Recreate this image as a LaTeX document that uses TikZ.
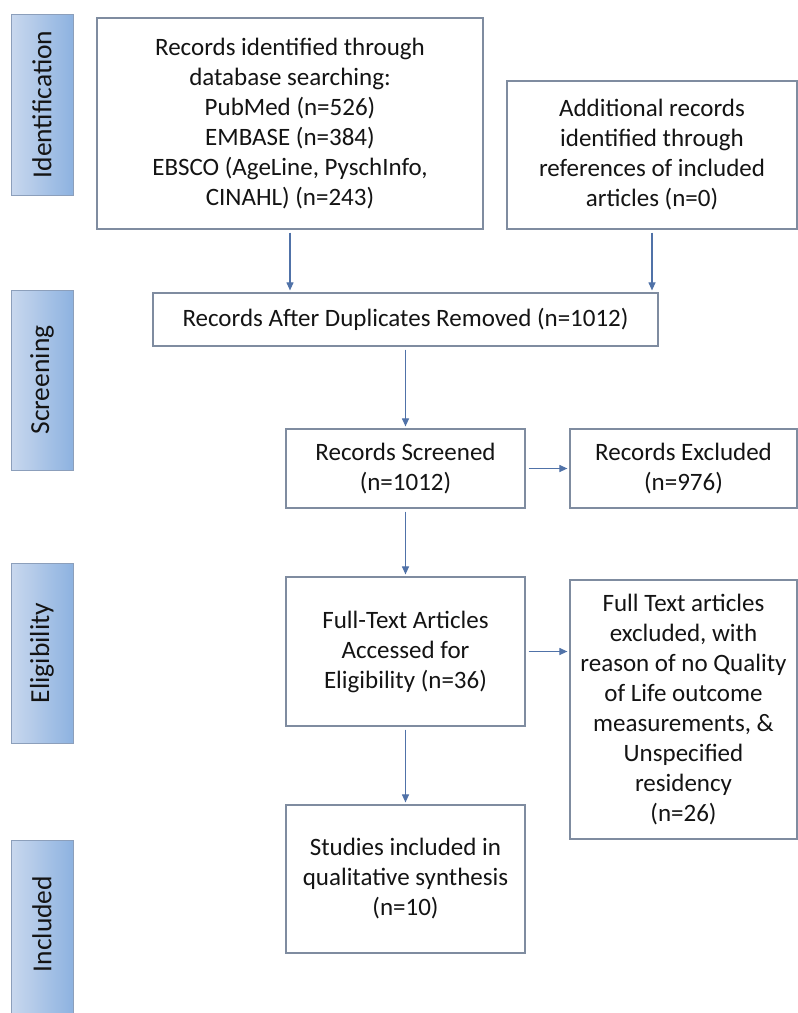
\documentclass[tikz,border=0pt]{standalone}
\usepackage{fontspec}
\setmainfont{Carlito}
\usetikzlibrary{arrows.meta,calc}
\definecolor{boxline}{HTML}{7F8CA0}
\definecolor{arrowc}{HTML}{5072A8}
\definecolor{barL}{HTML}{C9D8EE}
\definecolor{barR}{HTML}{8DB2E0}
\definecolor{barline}{HTML}{8C9FBB}
\definecolor{txt}{HTML}{141414}
\begin{document}
\begin{tikzpicture}[x=1pt,y=-1pt,
  every node/.style={font=\fontsize{25}{30}\selectfont, text=txt},
  flowbox/.style={draw=boxline, line width=1.2pt, rectangle, inner sep=0pt, align=center},
  phase/.style={draw=barline, line width=1pt, rectangle, inner sep=0pt, left color=barL, right color=barR, minimum width=62pt},
  phaselabel/.style={rotate=90, font=\fontsize{27.5}{30}\selectfont},
  conn/.style={draw=arrowc, line width=1.1pt, -{Triangle[length=8pt,width=7pt]}, shorten <=3pt, shorten >=2pt}
]
\useasboundingbox (0,0) rectangle (798,1013);
\fill[white] (0,0) rectangle (798,1013);

% phase bars
\node[phase, minimum height=181pt] (pid) at (42,104.5) {};
\node[phaselabel] (lid) at (pid.center) {Identification};
\node[phase, minimum height=180pt] (psc) at (42,380) {};
\node[phaselabel] (lsc) at (psc.center) {Screening};
\node[phase, minimum height=180pt] (pel) at (42,653) {};
\node[phaselabel] (lel) at (pel.center) {Eligibility};
\node[phase, minimum height=190pt] (pin) at (42,935) {};
\node[phaselabel] (lin) at (42,924) {Included};

% flow boxes
\node[flowbox, minimum width=386pt, minimum height=211pt] (b1) at (290,123.5)
  {Records identified through\\database searching:\\PubMed (n=526)\\EMBASE (n=384)\\EBSCO (AgeLine, PyschInfo,\\CINAHL) (n=243)};
\node[flowbox, minimum width=290pt, minimum height=148pt] (b2) at (652,155)
  {Additional records\\identified through\\references of included\\articles (n=0)};
\node[flowbox, minimum width=505pt, minimum height=53pt] (b3) at (405.5,319.5)
  {Records After Duplicates Removed (n=1012)};
\node[flowbox, minimum width=239pt, minimum height=79pt] (b4) at (405.5,468.5)
  {Records Screened\\(n=1012)};
\node[flowbox, minimum width=227pt, minimum height=79pt] (b5) at (683.5,468.5)
  {Records Excluded\\(n=976)};
\node[flowbox, minimum width=239pt, minimum height=149pt] (b6) at (405.5,651.5)
  {Full-Text Articles\\Accessed for\\Eligibility (n=36)};
\node[flowbox, minimum width=227pt, minimum height=259pt] (b7) at (683.5,709.5)
  {Full Text articles\\excluded, with\\reason of no Quality\\of Life outcome\\measurements, \&\\Unspecified\\residency\\(n=26)};
\node[flowbox, minimum width=239pt, minimum height=148pt] (b8) at (405.5,879)
  {Studies included in\\qualitative synthesis\\(n=10)};

% connectors
\draw[conn] (b1.south) -- (b1.south |- b3.north);
\draw[conn] (b2.south) -- (b2.south |- b3.north);
\draw[conn] (b3.south) -- (b4.north);
\draw[conn] (b4.east) -- (b4.east -| b5.west);
\draw[conn] (b4.south) -- (b6.north);
\draw[conn] (b6.east) -- (b6.east -| b7.west);
\draw[conn] (b6.south) -- (b8.north);
\end{tikzpicture}
\end{document}
